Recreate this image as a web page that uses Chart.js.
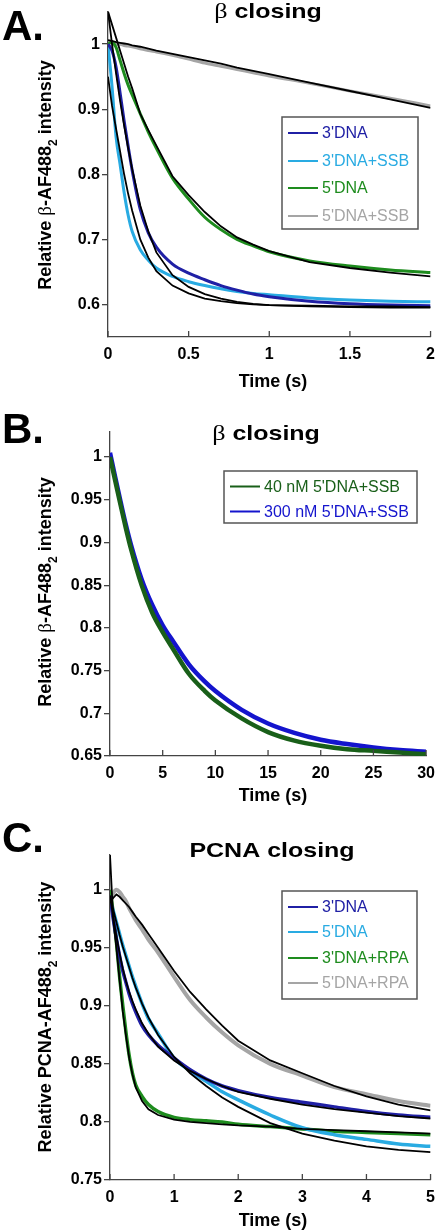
<!DOCTYPE html>
<html>
<head>
<meta charset="utf-8">
<script src="https://cdn.jsdelivr.net/npm/chart.js@4.4.1/dist/chart.umd.min.js"></script>
<style>
  body { margin: 0; background: #fff; }
  #wrap { position: relative; width: 443px; height: 1232px; }
  .panel { position: absolute; left: 0; width: 443px; }
</style>
</head>
<body>
<div id="wrap">
  <div class="panel" style="top:0;height:395px"><canvas id="chartA"></canvas></div>
  <div class="panel" style="top:395px;height:415px"><canvas id="chartB"></canvas></div>
  <div class="panel" style="top:805px;height:427px"><canvas id="chartC"></canvas></div>
</div>
<script>
// ---- panel A: beta clamp closing, 0-2 s ----
const timeA = [0, 0.025, 0.05, 0.075, 0.1, 0.125, 0.15, 0.2, 0.25, 0.3, 0.4, 0.5, 0.6, 0.7, 0.8, 0.9, 1.0, 1.25, 1.5, 1.75, 2.0];
const dna3A = [1.0, 0.99, 0.965, 0.925, 0.882, 0.843, 0.806, 0.746, 0.71, 0.688, 0.662, 0.648, 0.638, 0.629, 0.622, 0.616, 0.612, 0.605, 0.601, 0.599, 0.598];
const dna3FitA = [1.05, 1.0, 0.955, 0.913, 0.875, 0.84, 0.808, 0.752, 0.712, 0.68, 0.645, 0.627, 0.616, 0.609, 0.604, 0.601, 0.599, 0.597, 0.596, 0.595, 0.595];
const dna3SsbA = [1.0, 0.935, 0.857, 0.815, 0.772, 0.737, 0.712, 0.684, 0.668, 0.656, 0.643, 0.635, 0.629, 0.624, 0.62, 0.617, 0.615, 0.61, 0.607, 0.605, 0.604];
const dna3SsbFitA = [0.95, 0.905, 0.87, 0.835, 0.8, 0.77, 0.744, 0.7, 0.672, 0.651, 0.629, 0.617, 0.609, 0.605, 0.602, 0.6, 0.599, 0.598, 0.597, 0.597, 0.596];
const dna5A = [1.0, 1.003, 0.995, 0.975, 0.955, 0.937, 0.922, 0.893, 0.865, 0.84, 0.794, 0.762, 0.734, 0.715, 0.7, 0.69, 0.681, 0.667, 0.659, 0.653, 0.649];
const dna5FitA = [1.05, 1.03, 1.01, 0.99, 0.97, 0.95, 0.932, 0.893, 0.868, 0.844, 0.797, 0.768, 0.742, 0.72, 0.703, 0.692, 0.682, 0.665, 0.656, 0.649, 0.643];
const dna5SsbA = [0.99, 0.998, 1.0, 1.0, 0.998, 0.997, 0.996, 0.993, 0.99, 0.988, 0.983, 0.977, 0.971, 0.966, 0.961, 0.956, 0.951, 0.94, 0.928, 0.917, 0.905];
const dna5SsbFitA = [1.006, 1.005, 1.003, 1.002, 1.001, 1.0, 0.998, 0.996, 0.993, 0.99, 0.985, 0.98, 0.975, 0.97, 0.964, 0.959, 0.954, 0.941, 0.928, 0.915, 0.902];
const xTicksA = [0, 0.5, 1, 1.5, 2];
const yTicksA = [0.6, 0.7, 0.8, 0.9, 1];

// ---- panel B: beta closing, 5'DNA+SSB at two concentrations ----
const timeB = [0, 0.5, 1, 1.5, 2, 3, 4, 5, 6, 7.5, 9, 10, 12.5, 15, 17.5, 20, 22.5, 25, 27.5, 30];
const nM40B = [1.0, 0.972, 0.944, 0.917, 0.892, 0.85, 0.818, 0.795, 0.775, 0.746, 0.726, 0.715, 0.694, 0.678, 0.668, 0.662, 0.658, 0.656, 0.654, 0.652];
const nM300B = [1.005, 0.976, 0.948, 0.921, 0.897, 0.857, 0.827, 0.803, 0.784, 0.757, 0.737, 0.726, 0.704, 0.688, 0.677, 0.669, 0.664, 0.66, 0.657, 0.655];
const xTicksB = [0, 5, 10, 15, 20, 25, 30];
const yTicksB = [0.65, 0.7, 0.75, 0.8, 0.85, 0.9, 0.95, 1];

// ---- panel C: PCNA closing, 0-5 s ----
const timeC = [0, 0.05, 0.1, 0.15, 0.2, 0.25, 0.3, 0.35, 0.4, 0.5, 0.6, 0.75, 1.0, 1.25, 1.5, 1.75, 2.0, 2.5, 3.0, 3.5, 4.0, 4.5, 5.0];
const dna3C = [0.995, 0.975, 0.958, 0.943, 0.93, 0.92, 0.91, 0.902, 0.895, 0.883, 0.875, 0.866, 0.855, 0.845, 0.837, 0.831, 0.827, 0.821, 0.817, 0.813, 0.809, 0.806, 0.804];
const dna3FitC = [0.995, 0.976, 0.96, 0.945, 0.932, 0.921, 0.912, 0.904, 0.897, 0.885, 0.876, 0.865, 0.853, 0.844, 0.837, 0.831, 0.826, 0.82, 0.815, 0.811, 0.808, 0.805, 0.803];
const dna5C = [0.99, 0.982, 0.972, 0.962, 0.952, 0.943, 0.934, 0.925, 0.917, 0.902, 0.889, 0.876, 0.855, 0.844, 0.835, 0.826, 0.819, 0.806, 0.795, 0.789, 0.785, 0.781, 0.779];
const dna5FitC = [0.995, 0.983, 0.972, 0.961, 0.951, 0.942, 0.933, 0.924, 0.916, 0.902, 0.89, 0.875, 0.856, 0.842, 0.831, 0.821, 0.813, 0.799, 0.79, 0.784, 0.779, 0.776, 0.774];
const dna3RpaC = [1.0, 0.98, 0.955, 0.925, 0.9, 0.877, 0.857, 0.842, 0.832, 0.822, 0.815, 0.809, 0.804, 0.802, 0.801, 0.8, 0.798, 0.796, 0.794, 0.792, 0.791, 0.79, 0.789];
const dna3RpaFitC = [1.03, 0.975, 0.95, 0.922, 0.895, 0.874, 0.855, 0.841, 0.83, 0.818, 0.811, 0.806, 0.802, 0.8, 0.799, 0.798, 0.797, 0.796, 0.794, 0.793, 0.792, 0.791, 0.79];
const dna5RpaC = [0.99, 0.997, 1.0, 0.998, 0.994, 0.99, 0.984, 0.979, 0.974, 0.966, 0.957, 0.946, 0.925, 0.905, 0.89, 0.877, 0.866, 0.85, 0.84, 0.83, 0.824, 0.818, 0.814];
const dna5RpaFitC = [0.989, 0.993, 0.996, 0.994, 0.991, 0.988, 0.985, 0.981, 0.977, 0.97, 0.962, 0.95, 0.93, 0.912, 0.897, 0.883, 0.87, 0.853, 0.842, 0.831, 0.822, 0.815, 0.81];
const xTicksC = [0, 1, 2, 3, 4, 5];
const yTicksC = [0.75, 0.8, 0.85, 0.9, 0.95, 1];

const NAVY = 'rgb(32,32,165)';
const SKY = 'rgb(41,171,226)';
const GREEN = 'rgb(30,140,30)';
const GREY = 'rgb(165,165,165)';
const DKGREEN = 'rgb(25,95,25)';
const BLUE = 'rgb(20,20,205)';
const AXIS = '#444';

const sans = (size, weight) => `${weight || 'normal'} ${size}px Arial, 'Liberation Sans', sans-serif`;
const serif = size => `${size}px 'Liberation Serif', 'Times New Roman', serif`;
const fmt = v => String(+(+v).toFixed(3));

// draws a run of text pieces with different fonts, centred on x = 0
function drawParts(ctx, parts) {
    let total = 0;
    parts.forEach(p => { ctx.font = p.font; total += ctx.measureText(p.text).width; });
    let x = -total / 2;
    parts.forEach(p => {
        ctx.font = p.font;
        ctx.fillText(p.text, x, p.dy || 0);
        x += ctx.measureText(p.text).width;
    });
}

const decor = {
    id: 'decor',
    afterDraw(chart, args, o) {
        const ctx = chart.ctx;
        const area = chart.chartArea;
        const xs = chart.scales.x;
        ctx.save();

        // inner tick marks on the time axis
        ctx.strokeStyle = AXIS;
        ctx.lineWidth = 1.3;
        xs.ticks.forEach(t => {
            const px = xs.getPixelForValue(t.value);
            ctx.beginPath();
            ctx.moveTo(px, area.bottom);
            ctx.lineTo(px, area.bottom - 6);
            ctx.stroke();
        });

        ctx.fillStyle = '#000';
        ctx.textBaseline = 'alphabetic';
        ctx.textAlign = 'left';

        // panel letter
        ctx.font = sans(42, 'bold');
        ctx.fillText(o.letter, 2, o.letterY);

        // title (wide bold face)
        ctx.save();
        ctx.translate(o.titleX, o.titleY);
        ctx.scale(1.19, 1);
        drawParts(ctx, o.title);
        ctx.restore();

        // y axis title, rotated
        ctx.save();
        ctx.translate(51, o.yTitleY);
        ctx.rotate(-Math.PI / 2);
        drawParts(ctx, o.yTitle);
        ctx.restore();

        // x axis title
        ctx.save();
        ctx.translate(o.xTitleX, o.xTitleY);
        drawParts(ctx, [{text: 'Time (s)', font: sans(18, 'bold')}]);
        ctx.restore();

        // legend box
        const lg = o.legend;
        ctx.fillStyle = '#fff';
        ctx.fillRect(lg.x, lg.y, lg.w, lg.h);
        ctx.strokeStyle = '#555';
        ctx.lineWidth = 1.5;
        ctx.strokeRect(lg.x, lg.y, lg.w, lg.h);
        const items = chart.data.datasets.filter(d => !d.fit);
        ctx.font = sans(16);
        ctx.textBaseline = 'middle';
        items.forEach((d, i) => {
            const y = lg.rows[i];
            ctx.strokeStyle = d.borderColor;
            ctx.lineWidth = 2;
            ctx.beginPath();
            ctx.moveTo(lg.x + 6, y);
            ctx.lineTo(lg.x + 36, y);
            ctx.stroke();
            ctx.fillStyle = d.borderColor;
            ctx.fillText(d.label, lg.x + 40, y + 1);
        });
        ctx.restore();
    }
};

function series(times, vals, label, color, width) {
    return {
        label: label,
        data: times.map((t, i) => ({x: t, y: vals[i]})),
        borderColor: color,
        borderWidth: width,
        pointRadius: 0,
        cubicInterpolationMode: 'monotone',
        borderJoinStyle: 'round',
        order: 1
    };
}

function fitLine(times, vals) {
    return {
        label: '',
        fit: true,
        data: times.map((t, i) => ({x: t, y: vals[i]})),
        borderColor: '#000',
        borderWidth: 1.8,
        pointRadius: 0,
        tension: 0,
        order: 0
    };
}

function makeChart(id, cfg) {
    const h = cfg.height;
    return new Chart(document.getElementById(id), {
        type: 'line',
        data: {datasets: cfg.datasets},
        options: {
            responsive: true,
            maintainAspectRatio: false,
            animation: false,
            layout: {padding: {top: cfg.area.top, right: 443 - cfg.area.right, left: 0, bottom: 0}},
            scales: {
                x: {
                    type: 'linear',
                    min: cfg.xMin, max: cfg.xMax,
                    afterBuildTicks: s => { s.ticks = cfg.xTicks.map(v => ({value: v})); },
                    afterFit: s => { s.height = h - cfg.area.bottom; },
                    grid: {drawOnChartArea: false, drawTicks: false, color: AXIS},
                    border: {color: AXIS, width: 1.3},
                    ticks: {padding: 8, color: '#000', autoSkip: false, maxRotation: 0,
                        font: {size: 16, weight: 'bold', family: "Arial, 'Liberation Sans', sans-serif"},
                        callback: v => fmt(v)}
                },
                y: {
                    type: 'linear',
                    min: cfg.yMin, max: cfg.yMax,
                    afterBuildTicks: s => { s.ticks = cfg.yTicks.map(v => ({value: v})); },
                    afterFit: s => { s.width = cfg.area.left; },
                    grid: {drawOnChartArea: false, drawTicks: true, tickLength: 6, color: AXIS, lineWidth: 1.3},
                    border: {color: AXIS, width: 1.3},
                    ticks: {padding: 2, color: '#000', autoSkip: false,
                        font: {size: 16, weight: 'bold', family: "Arial, 'Liberation Sans', sans-serif"},
                        callback: v => fmt(v)}
                }
            },
            plugins: {
                legend: {display: false},
                tooltip: {enabled: false},
                decor: cfg.decor
            }
        },
        plugins: [decor]
    });
}

const betaYTitle = [
    {text: 'Relative ', font: sans(18, 'bold')},
    {text: 'β', font: serif(19)},
    {text: '-AF488', font: sans(18, 'bold')},
    {text: '2', font: sans(12, 'bold'), dy: 6},
    {text: ' intensity', font: sans(18, 'bold')}
];
const betaTitle = [
    {text: 'β', font: serif(22)},
    {text: ' closing', font: sans(21, 'bold')}
];

makeChart('chartA', {
    height: 395,
    area: {left: 108, right: 435, top: 9.5, bottom: 337},
    xMin: 0, xMax: 2, yMin: 0.55, yMax: 1.05,
    xTicks: xTicksA, yTicks: yTicksA,
    datasets: [
        series(timeA, dna3A, "3'DNA", NAVY, 3),
        series(timeA, dna3SsbA, "3'DNA+SSB", SKY, 3),
        series(timeA, dna5A, "5'DNA", GREEN, 3),
        series(timeA, dna5SsbA, "5'DNA+SSB", GREY, 3),
        fitLine(timeA, dna3FitA),
        fitLine(timeA, dna3SsbFitA),
        fitLine(timeA, dna5FitA),
        fitLine(timeA, dna5SsbFitA)
    ],
    decor: {
        letter: 'A.', letterY: 40,
        title: betaTitle, titleX: 268, titleY: 18,
        yTitle: betaYTitle, yTitleY: 175,
        xTitleX: 273, xTitleY: 387,
        legend: {x: 282, y: 117, w: 136, h: 112, rows: [133, 161, 188, 216]}
    }
});

makeChart('chartB', {
    height: 415,
    area: {left: 110, right: 433, top: 36.4, bottom: 361},
    xMin: 0, xMax: 30, yMin: 0.65, yMax: 1.03,
    xTicks: xTicksB, yTicks: yTicksB,
    datasets: [
        series(timeB, nM40B, '40 nM 5\'DNA+SSB', DKGREEN, 4.5),
        series(timeB, nM300B, '300 nM 5\'DNA+SSB', BLUE, 4.5)
    ],
    decor: {
        letter: 'B.', letterY: 48,
        title: betaTitle, titleX: 266, titleY: 45,
        yTitle: betaYTitle, yTitleY: 197,
        xTitleX: 273, xTitleY: 406,
        legend: {x: 224, y: 76, w: 193, h: 52, rows: [91.5, 116.5]}
    }
});

makeChart('chartC', {
    height: 427,
    area: {left: 110, right: 434, top: 50, bottom: 375},
    xMin: 0, xMax: 5, yMin: 0.75, yMax: 1.03,
    xTicks: xTicksC, yTicks: yTicksC,
    datasets: [
        series(timeC, dna3C, "3'DNA", NAVY, 3.5),
        series(timeC, dna5C, "5'DNA", SKY, 3.5),
        series(timeC, dna3RpaC, "3'DNA+RPA", GREEN, 3.5),
        series(timeC, dna5RpaC, "5'DNA+RPA", GREY, 4),
        fitLine(timeC, dna3FitC),
        fitLine(timeC, dna5FitC),
        fitLine(timeC, dna3RpaFitC),
        fitLine(timeC, dna5RpaFitC)
    ],
    decor: {
        letter: 'C.', letterY: 47,
        title: [{text: 'PCNA closing', font: sans(21, 'bold')}], titleX: 272, titleY: 52,
        yTitle: [
            {text: 'Relative PCNA-AF488', font: sans(18, 'bold')},
            {text: '2', font: sans(12, 'bold'), dy: 6},
            {text: ' intensity', font: sans(18, 'bold')}
        ],
        yTitleY: 212,
        xTitleX: 273, xTitleY: 421,
        legend: {x: 282, y: 86, w: 135, h: 108, rows: [102, 127, 153, 178]}
    }
});
</script>
</body>
</html>
